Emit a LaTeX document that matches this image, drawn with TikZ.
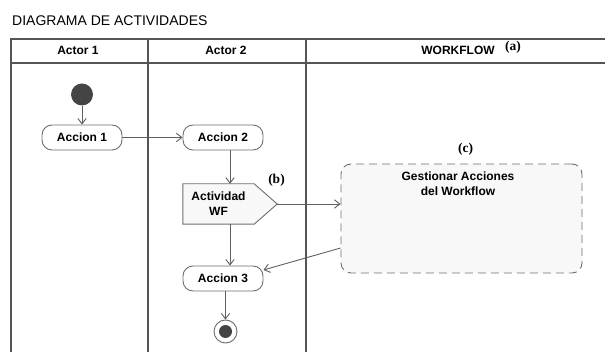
\documentclass[tikz,border=0pt]{standalone}
\usepackage{fontspec}
\setmainfont{Liberation Sans}
\newfontfamily\labserif{Liberation Serif}
\usetikzlibrary{arrows.meta,backgrounds,calc}
\definecolor{lanecol}{HTML}{555555}
\definecolor{edgecol}{HTML}{606060}
\definecolor{boxcol}{HTML}{6E6E6E}
\definecolor{dotcol}{HTML}{444444}
\definecolor{shapefill}{HTML}{F8F8F8}
\tikzset{
 lane/.style={draw=lanecol,line width=2pt},
 hdr/.style={font=\fontsize{12}{14}\selectfont\bfseries,inner sep=0pt,anchor=base},
 action/.style={draw=boxcol,line width=0.9pt,fill=white,rounded corners=10pt,minimum width=80pt,minimum height=25pt,inner sep=0pt,font=\fontsize{12}{14}\selectfont\bfseries},
 arr/.style={draw=edgecol,line width=0.9pt,-{Straight Barb[length=5.5pt,width=8.5pt]}},
 tag/.style={font=\labserif\fontsize{13.5}{15}\selectfont\bfseries,inner sep=0pt,anchor=base},
 txt/.style={font=\fontsize{12}{15}\selectfont\bfseries,inner sep=0pt,align=center},
}
\begin{document}
\begin{tikzpicture}[x=1pt,y=-1pt]
\useasboundingbox (0,0) rectangle (605,352);
% title
\node[anchor=base west,font=\fontsize{14}{16}\selectfont,inner sep=0pt] (title) at (12,26) {DIAGRAMA DE ACTIVIDADES};
% swimlanes
\draw[lane] (11,352) -- (11,39) -- (605,39);
\draw[lane] (11,63) -- (605,63);
\draw[lane] (148,39) -- (148,352);
\draw[lane] (306,39) -- (306,352);
\node[hdr] (h1) at (78,55) {Actor 1};
\node[hdr] (h2) at (226,55) {Actor 2};
\node[hdr] (h3) at (458,55) {WORKFLOW};
\node[tag] (ta) at (513,50.5) {(a)};
% nodes
\node[circle,fill=dotcol,minimum size=22pt,inner sep=0pt] (ini) at (82,94.5) {};
\node[action] (a1) at (82,137.5) {Accion 1};
\node[action] (a2) at (223,137.5) {Accion 2};
\node[txt,minimum width=71pt,minimum height=40pt] (wf) at (218.5,204) {Actividad\\WF};
\begin{scope}[on background layer]
\draw[draw=boxcol,fill=shapefill,line width=0.9pt] (wf.north west) -- (wf.north east) -- ($(wf.east)+(23,0)$) coordinate (wftip) -- (wf.south east) -- (wf.south west) -- cycle;
\end{scope}
\node[tag] (tb) at (276.5,184) {(b)};
\node[action] (a3) at (223,278.5) {Accion 3};
\node[circle,draw=boxcol,fill=white,line width=0.9pt,minimum size=23pt,inner sep=0pt] (fin) at (225.5,331.5) {};
\node[circle,fill=dotcol,minimum size=13pt,inner sep=0pt] (findot) at (fin.center) {};
\node[draw=boxcol,dash pattern=on 8pt off 5pt,fill=shapefill,rounded corners=10pt,line width=0.9pt,minimum width=241pt,minimum height=109pt] (g) at (461.5,218.5) {};
\node[txt] (gt) at (458,184) {Gestionar Acciones\\del Workflow};
\node[tag] (tc) at (465.5,152.5) {(c)};
% connectors
\draw[arr] (ini) -- (a1);
\draw[arr] (a1) -- (a2);
\draw[arr] ([xshift=7pt]a2.south) -- ([xshift=11.5pt]wf.north);
\draw[arr] ([xshift=11.5pt]wf.south) -- ([xshift=7pt]a3.north);
\draw[arr] (wftip) -- (wftip -| g.west);
\draw[arr] ([yshift=-29.5pt]g.west) -- ([yshift=8.5pt]a3.east);
\draw[arr] ([xshift=2.5pt]a3.south) -- (fin);
\end{tikzpicture}
\end{document}
